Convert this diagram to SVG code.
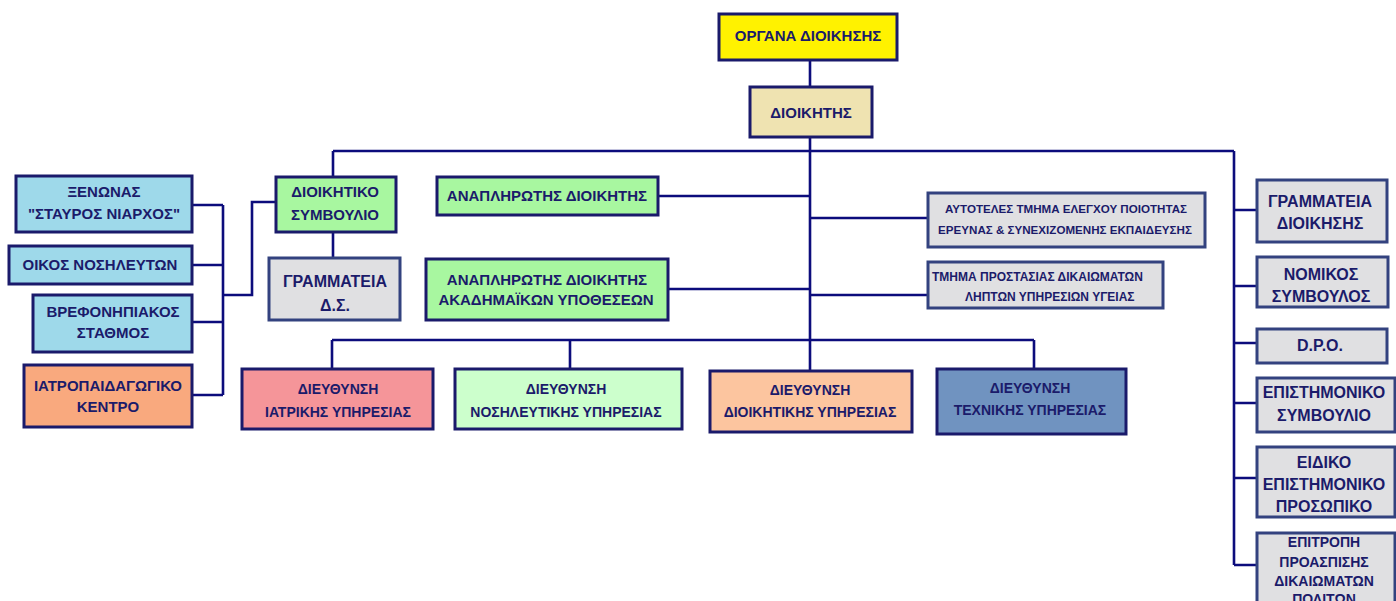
<svg xmlns="http://www.w3.org/2000/svg" width="1396" height="601" viewBox="0 0 1396 601">
<style>
.n rect{stroke:#1a1a6b;stroke-width:3}
.n rect.g{fill:#e0e0e2;stroke:#33427f}
text{font-family:"Liberation Sans",Arial,sans-serif;font-weight:bold;fill:#1b1b6a;text-anchor:middle;font-size:15px}
.s14{font-size:14px}
.s16{font-size:16px}
.s12{font-size:12px}
#connectors path{fill:none;stroke:#0c0c7c;stroke-width:2.6}
</style>
<g id="connectors">
<path d="M810 60V87M810 137V371M333 151H1234M333 151V177M1234 151V565"/>
<path d="M1234 210H1257M1234 286H1257M1234 343H1257M1234 403H1257M1234 478H1257M1234 565H1257"/>
<path d="M658 196H810M810 218H928M668 289H810M810 295H928"/>
<path d="M332 340H1034M332 340V369M570 340V369M1034 340V369"/>
<path d="M333 232V258"/>
<path d="M277 202H252V295H223M223 205V395M192 205H223M192 265H223M192 322H223M192 395H223"/>
</g>
<g id="organa" class="n"><rect x="719" y="14" width="178" height="46" fill="#fff200"/><text x="808" y="41">ΟΡΓΑΝΑ ΔΙΟΙΚΗΣΗΣ</text></g>
<g id="dioikitis" class="n"><rect x="750" y="87" width="122" height="50" fill="#efe3b1"/><text x="811" y="117.5">ΔΙΟΙΚΗΤΗΣ</text></g>
<g id="xenonas" class="n"><rect x="16" y="176" width="176" height="56" fill="#9ed9ea"/><text x="104" y="197.4">ΞΕΝΩΝΑΣ</text><text x="104" y="219.4">"ΣΤΑΥΡΟΣ ΝΙΑΡΧΟΣ"</text></g>
<g id="oikos" class="n"><rect x="9" y="246" width="183" height="38" fill="#9ed9ea"/><text x="100" y="270.4">ΟΙΚΟΣ ΝΟΣΗΛΕΥΤΩΝ</text></g>
<g id="vrefo" class="n"><rect x="33" y="295" width="159" height="57" fill="#9ed9ea"/><text x="113" y="317.4">ΒΡΕΦΟΝΗΠΙΑΚΟΣ</text><text x="113" y="338.4">ΣΤΑΘΜΟΣ</text></g>
<g id="iatropaid" class="n"><rect x="24" y="365" width="168" height="62" fill="#f9a97e"/><text x="108" y="391.4">ΙΑΤΡΟΠΑΙΔΑΓΩΓΙΚΟ</text><text x="108" y="412.4">ΚΕΝΤΡΟ</text></g>
<g id="ds" class="n"><rect x="276" y="177" width="120" height="55" fill="#a8f7a0"/><text x="335" y="197.4">ΔΙΟΙΚΗΤΙΚΟ</text><text x="335" y="220.4">ΣΥΜΒΟΥΛΙΟ</text></g>
<g id="gramm-ds" class="n"><rect class="g" x="269" y="258" width="131" height="62"/><text class="s16" x="335" y="286.7">ΓΡΑΜΜΑΤΕΙΑ</text><text class="s16" x="335" y="310.7">Δ.Σ.</text></g>
<g id="anapl" class="n"><rect x="437" y="177" width="221" height="38" fill="#a8f7a0"/><text x="547" y="201.4">ΑΝΑΠΛΗΡΩΤΗΣ ΔΙΟΙΚΗΤΗΣ</text></g>
<g id="anapl-akad" class="n"><rect x="426" y="259" width="242" height="61" fill="#a8f7a0"/><text x="547" y="285.4">ΑΝΑΠΛΗΡΩΤΗΣ ΔΙΟΙΚΗΤΗΣ</text><text x="546" y="305.4">ΑΚΑΔΗΜΑΪΚΩΝ ΥΠΟΘΕΣΕΩΝ</text></g>
<g id="aytoteles" class="n"><rect class="g" x="928" y="193" width="277" height="54"/><text x="1066" y="213.2" style="font-size:11.6px">ΑΥΤΟΤΕΛΕΣ ΤΜΗΜΑ ΕΛΕΓΧΟΥ ΠΟΙΟΤΗΤΑΣ</text><text x="1065" y="234.2" style="font-size:11.6px">ΕΡΕΥΝΑΣ &amp; ΣΥΝΕΧΙΖΟΜΕΝΗΣ ΕΚΠΑΙΔΕΥΣΗΣ</text></g>
<g id="tmima-prostasias" class="n"><rect class="g" x="928" y="262" width="235" height="46"/><text class="s12" x="932" y="281.3" style="text-anchor:start">ΤΜΗΜΑ ΠΡΟΣΤΑΣΙΑΣ ΔΙΚΑΙΩΜΑΤΩΝ</text><text class="s12" x="965" y="301.3" style="text-anchor:start">ΛΗΠΤΩΝ ΥΠΗΡΕΣΙΩΝ ΥΓΕΙΑΣ</text></g>
<g id="iatrikis" class="n"><rect x="242" y="369" width="191" height="60" fill="#f59599"/><text class="s14" x="338" y="394">ΔΙΕΥΘΥΝΣΗ</text><text class="s14" x="338" y="417">ΙΑΤΡΙΚΗΣ ΥΠΗΡΕΣΙΑΣ</text></g>
<g id="nosileftikis" class="n"><rect x="455" y="369" width="227" height="60" fill="#ccffcc"/><text class="s14" x="566" y="394">ΔΙΕΥΘΥΝΣΗ</text><text class="s14" x="566" y="417">ΝΟΣΗΛΕΥΤΙΚΗΣ ΥΠΗΡΕΣΙΑΣ</text></g>
<g id="dioikitikis" class="n"><rect x="710" y="371" width="202" height="61" fill="#fcc59f"/><text class="s14" x="810" y="395">ΔΙΕΥΘΥΝΣΗ</text><text class="s14" x="810" y="417">ΔΙΟΙΚΗΤΙΚΗΣ ΥΠΗΡΕΣΙΑΣ</text></g>
<g id="texnikis" class="n"><rect x="937" y="369" width="189" height="65" fill="#7093c0"/><text class="s14" x="1030" y="393">ΔΙΕΥΘΥΝΣΗ</text><text class="s14" x="1030" y="415">ΤΕΧΝΙΚΗΣ ΥΠΗΡΕΣΙΑΣ</text></g>
<g id="gramm-dioik" class="n"><rect class="g" x="1257" y="180" width="130" height="62"/><text class="s16" x="1320" y="206.7">ΓΡΑΜΜΑΤΕΙΑ</text><text class="s16" x="1320" y="228.7">ΔΙΟΙΚΗΣΗΣ</text></g>
<g id="nomikos" class="n"><rect class="g" x="1257" y="257" width="131" height="50"/><text class="s16" x="1321" y="279.7">ΝΟΜΙΚΟΣ</text><text class="s16" x="1321" y="301.7">ΣΥΜΒΟΥΛΟΣ</text></g>
<g id="dpo" class="n"><rect class="g" x="1257" y="329" width="130" height="34"/><text class="s16" x="1320" y="350.7">D.P.O.</text></g>
<g id="epist-symv" class="n"><rect class="g" x="1257" y="378" width="138" height="54"/><text class="s16" x="1324" y="397.7">ΕΠΙΣΤΗΜΟΝΙΚΟ</text><text class="s16" x="1324" y="420.7">ΣΥΜΒΟΥΛΙΟ</text></g>
<g id="eidiko" class="n"><rect class="g" x="1257" y="447" width="138" height="70"/><text class="s16" x="1324" y="467.7">ΕΙΔΙΚΟ</text><text class="s16" x="1324" y="489.7">ΕΠΙΣΤΗΜΟΝΙΚΟ</text><text class="s16" x="1324" y="511.7">ΠΡΟΣΩΠΙΚΟ</text></g>
<g id="epitropi" class="n"><rect class="g" x="1257" y="533" width="138" height="80"/><text class="s14" x="1324" y="547">ΕΠΙΤΡΟΠΗ</text><text class="s14" x="1324" y="567">ΠΡΟΑΣΠΙΣΗΣ</text><text class="s14" x="1324" y="586">ΔΙΚΑΙΩΜΑΤΩΝ</text><text class="s14" x="1324" y="604">ΠΟΛΙΤΩΝ</text></g>
</svg>
